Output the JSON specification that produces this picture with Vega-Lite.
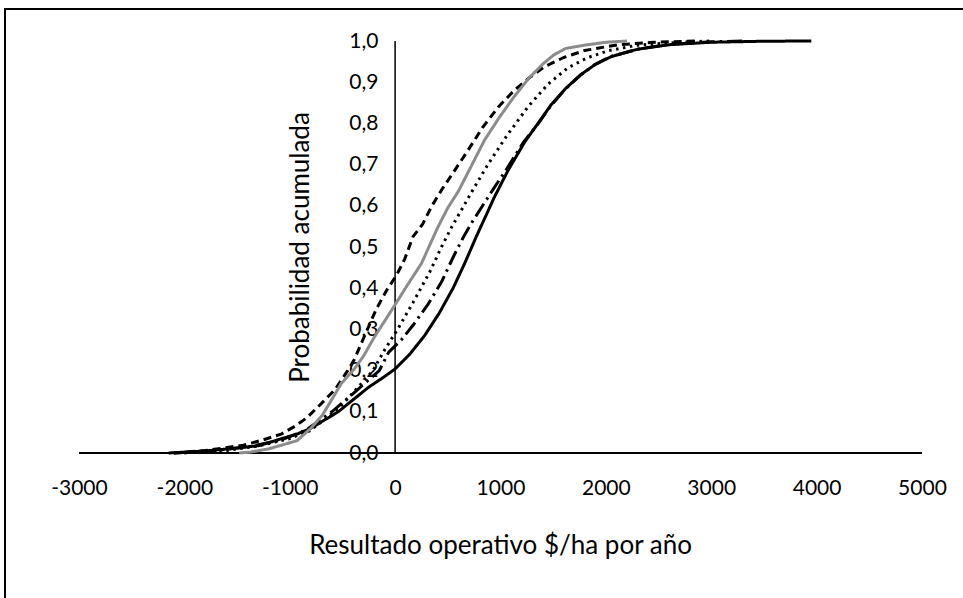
{
  "$schema": "https://vega.github.io/schema/vega-lite/v6.json",
  "width": 1000,
  "height": 621,
  "autosize": {"type": "none"},
  "padding": {"left": 5, "top": 9, "right": -42, "bottom": -32},
  "background": "#ffffff",
  "config": {
    "font": "Lato",
    "view": {"stroke": "#000000", "strokeWidth": 2},
    "axis": {"labelFont": "Lato", "titleFont": "Lato", "labelColor": "#000000", "titleColor": "#000000", "titleFontWeight": "normal"}
  },
  "datasets": {
    "curvas": [
      {"serie": "A", "x": -2150, "p": 0}, {"serie": "A", "x": -1800, "p": 0.005}, {"serie": "A", "x": -1500, "p": 0.012},
      {"serie": "A", "x": -1290, "p": 0.018}, {"serie": "A", "x": -1100, "p": 0.033}, {"serie": "A", "x": -930, "p": 0.046},
      {"serie": "A", "x": -800, "p": 0.06}, {"serie": "A", "x": -690, "p": 0.077}, {"serie": "A", "x": -540, "p": 0.1},
      {"serie": "A", "x": -390, "p": 0.131}, {"serie": "A", "x": -250, "p": 0.16}, {"serie": "A", "x": -120, "p": 0.182},
      {"serie": "A", "x": 0, "p": 0.204}, {"serie": "A", "x": 140, "p": 0.24}, {"serie": "A", "x": 280, "p": 0.285},
      {"serie": "A", "x": 420, "p": 0.34}, {"serie": "A", "x": 550, "p": 0.4}, {"serie": "A", "x": 660, "p": 0.46},
      {"serie": "A", "x": 770, "p": 0.525}, {"serie": "A", "x": 860, "p": 0.575}, {"serie": "A", "x": 940, "p": 0.62},
      {"serie": "A", "x": 1070, "p": 0.685}, {"serie": "A", "x": 1230, "p": 0.755}, {"serie": "A", "x": 1370, "p": 0.805},
      {"serie": "A", "x": 1480, "p": 0.845}, {"serie": "A", "x": 1620, "p": 0.885}, {"serie": "A", "x": 1760, "p": 0.918},
      {"serie": "A", "x": 1900, "p": 0.943}, {"serie": "A", "x": 2050, "p": 0.962}, {"serie": "A", "x": 2300, "p": 0.98},
      {"serie": "A", "x": 2600, "p": 0.991}, {"serie": "A", "x": 3000, "p": 0.997}, {"serie": "A", "x": 3500, "p": 0.9995},
      {"serie": "A", "x": 3950, "p": 1.0},

      {"serie": "B", "x": -2100, "p": 0}, {"serie": "B", "x": -1800, "p": 0.006}, {"serie": "B", "x": -1440, "p": 0.019},
      {"serie": "B", "x": -1250, "p": 0.032}, {"serie": "B", "x": -1080, "p": 0.046}, {"serie": "B", "x": -950, "p": 0.065},
      {"serie": "B", "x": -840, "p": 0.085}, {"serie": "B", "x": -700, "p": 0.12}, {"serie": "B", "x": -570, "p": 0.154},
      {"serie": "B", "x": -450, "p": 0.2}, {"serie": "B", "x": -387, "p": 0.227}, {"serie": "B", "x": -280, "p": 0.29},
      {"serie": "B", "x": -179, "p": 0.349}, {"serie": "B", "x": -80, "p": 0.395}, {"serie": "B", "x": 15, "p": 0.432},
      {"serie": "B", "x": 90, "p": 0.47}, {"serie": "B", "x": 170, "p": 0.525}, {"serie": "B", "x": 260, "p": 0.555},
      {"serie": "B", "x": 350, "p": 0.6}, {"serie": "B", "x": 440, "p": 0.638}, {"serie": "B", "x": 550, "p": 0.68},
      {"serie": "B", "x": 680, "p": 0.73}, {"serie": "B", "x": 830, "p": 0.79}, {"serie": "B", "x": 980, "p": 0.84},
      {"serie": "B", "x": 1130, "p": 0.88}, {"serie": "B", "x": 1280, "p": 0.912}, {"serie": "B", "x": 1420, "p": 0.938},
      {"serie": "B", "x": 1600, "p": 0.96}, {"serie": "B", "x": 1800, "p": 0.977}, {"serie": "B", "x": 2116, "p": 0.991},
      {"serie": "B", "x": 2450, "p": 0.997}, {"serie": "B", "x": 2850, "p": 1.0},

      {"serie": "C", "x": -2000, "p": 0}, {"serie": "C", "x": -1600, "p": 0.006}, {"serie": "C", "x": -1300, "p": 0.017},
      {"serie": "C", "x": -1000, "p": 0.035}, {"serie": "C", "x": -810, "p": 0.054}, {"serie": "C", "x": -650, "p": 0.085},
      {"serie": "C", "x": -510, "p": 0.115}, {"serie": "C", "x": -350, "p": 0.16}, {"serie": "C", "x": -210, "p": 0.2},
      {"serie": "C", "x": -100, "p": 0.25}, {"serie": "C", "x": 30, "p": 0.303}, {"serie": "C", "x": 170, "p": 0.365},
      {"serie": "C", "x": 330, "p": 0.44}, {"serie": "C", "x": 440, "p": 0.5}, {"serie": "C", "x": 540, "p": 0.55},
      {"serie": "C", "x": 630, "p": 0.59}, {"serie": "C", "x": 730, "p": 0.635}, {"serie": "C", "x": 880, "p": 0.7},
      {"serie": "C", "x": 1060, "p": 0.77}, {"serie": "C", "x": 1260, "p": 0.84}, {"serie": "C", "x": 1450, "p": 0.895},
      {"serie": "C", "x": 1640, "p": 0.935}, {"serie": "C", "x": 1830, "p": 0.96}, {"serie": "C", "x": 2030, "p": 0.977},
      {"serie": "C", "x": 2300, "p": 0.99}, {"serie": "C", "x": 2700, "p": 0.997}, {"serie": "C", "x": 3000, "p": 1.0},

      {"serie": "D", "x": -2100, "p": 0}, {"serie": "D", "x": -1700, "p": 0.006}, {"serie": "D", "x": -1400, "p": 0.015},
      {"serie": "D", "x": -1100, "p": 0.03}, {"serie": "D", "x": -850, "p": 0.055}, {"serie": "D", "x": -600, "p": 0.1},
      {"serie": "D", "x": -390, "p": 0.146}, {"serie": "D", "x": -150, "p": 0.2}, {"serie": "D", "x": -60, "p": 0.245},
      {"serie": "D", "x": 60, "p": 0.275}, {"serie": "D", "x": 170, "p": 0.31}, {"serie": "D", "x": 310, "p": 0.36},
      {"serie": "D", "x": 440, "p": 0.415}, {"serie": "D", "x": 560, "p": 0.48}, {"serie": "D", "x": 650, "p": 0.525},
      {"serie": "D", "x": 730, "p": 0.56}, {"serie": "D", "x": 830, "p": 0.6}, {"serie": "D", "x": 930, "p": 0.64},
      {"serie": "D", "x": 1060, "p": 0.69}, {"serie": "D", "x": 1220, "p": 0.755}, {"serie": "D", "x": 1360, "p": 0.8},
      {"serie": "D", "x": 1470, "p": 0.84}, {"serie": "D", "x": 1610, "p": 0.882}, {"serie": "D", "x": 1750, "p": 0.915},
      {"serie": "D", "x": 1890, "p": 0.942}, {"serie": "D", "x": 2040, "p": 0.962}, {"serie": "D", "x": 2300, "p": 0.98},
      {"serie": "D", "x": 2600, "p": 0.992}, {"serie": "D", "x": 3000, "p": 0.998}, {"serie": "D", "x": 3300, "p": 1.0},

      {"serie": "E", "x": -1480, "p": 0}, {"serie": "E", "x": -1380, "p": 0.002}, {"serie": "E", "x": -1200, "p": 0.01},
      {"serie": "E", "x": -930, "p": 0.03}, {"serie": "E", "x": -800, "p": 0.06}, {"serie": "E", "x": -690, "p": 0.092},
      {"serie": "E", "x": -600, "p": 0.13}, {"serie": "E", "x": -510, "p": 0.169}, {"serie": "E", "x": -387, "p": 0.204},
      {"serie": "E", "x": -300, "p": 0.235}, {"serie": "E", "x": -200, "p": 0.28}, {"serie": "E", "x": -100, "p": 0.32},
      {"serie": "E", "x": 0, "p": 0.36}, {"serie": "E", "x": 110, "p": 0.405}, {"serie": "E", "x": 250, "p": 0.46},
      {"serie": "E", "x": 400, "p": 0.545}, {"serie": "E", "x": 500, "p": 0.595}, {"serie": "E", "x": 600, "p": 0.635},
      {"serie": "E", "x": 720, "p": 0.695}, {"serie": "E", "x": 850, "p": 0.76}, {"serie": "E", "x": 990, "p": 0.815},
      {"serie": "E", "x": 1130, "p": 0.865}, {"serie": "E", "x": 1270, "p": 0.91}, {"serie": "E", "x": 1410, "p": 0.946},
      {"serie": "E", "x": 1510, "p": 0.967}, {"serie": "E", "x": 1620, "p": 0.982}, {"serie": "E", "x": 1800, "p": 0.99},
      {"serie": "E", "x": 2000, "p": 0.997}, {"serie": "E", "x": 2200, "p": 1.0}
    ]
  },
  "layer": [
    {
      "description": "Eje horizontal en y = 0",
      "data": {"values": [{}]},
      "mark": {"type": "rule", "color": "#000000", "strokeWidth": 2},
      "encoding": {
        "x": {"datum": -3000, "type": "quantitative"},
        "x2": {"datum": 5000},
        "y": {"datum": 0, "type": "quantitative"}
      }
    },
    {
      "description": "Eje vertical en x = 0",
      "data": {"values": [{}]},
      "mark": {"type": "rule", "color": "#000000", "strokeWidth": 1.5},
      "encoding": {
        "x": {"datum": 0, "type": "quantitative"},
        "y": {"datum": 0, "type": "quantitative"},
        "y2": {"datum": 1}
      }
    },
    {
      "data": {"name": "curvas"},
      "mark": {"type": "line", "strokeWidth": 3, "strokeCap": "butt", "strokeJoin": "round"},
      "encoding": {
        "x": {
          "field": "x", "type": "quantitative",
          "scale": {"domain": [-3702, 5788], "nice": false, "zero": false},
          "axis": {
            "orient": "bottom", "offset": -177, "domain": false, "ticks": false, "tickSize": 0, "grid": false,
            "values": [-3000, -2000, -1000, 0, 1000, 2000, 3000, 4000, 5000],
            "labelExpr": "'' + datum.value",
            "labelFontSize": 21, "labelPadding": 24, "labelOverlap": false, "labelFlush": false,
            "title": "Resultado operativo $/ha por año", "titleFontSize": 26,
            "titleX": 495, "titleY": 92, "titleBaseline": "middle", "titleAlign": "center"
          }
        },
        "y": {
          "field": "p", "type": "quantitative",
          "scale": {"domain": [-0.4296, 1.0777], "nice": false, "zero": false},
          "axis": {
            "orient": "left", "offset": -390, "domain": false, "ticks": false, "tickSize": 0, "grid": false,
            "values": [0, 0.1, 0.2, 0.3, 0.4, 0.5, 0.6, 0.7, 0.8, 0.9, 1],
            "labelExpr": "replace(format(datum.value, '.1f'), '.', ',')",
            "labelFontSize": 21, "labelPadding": 17, "labelOverlap": false, "labelFlush": false,
            "title": "Probabilidad acumulada", "titleFontSize": 26,
            "titleX": -95, "titleY": 238, "titleBaseline": "middle", "titleAngle": -90, "titleAlign": "center"
          }
        },
        "color": {
          "field": "serie", "type": "nominal", "legend": null,
          "scale": {"domain": ["A", "B", "C", "D", "E"], "range": ["#000000", "#000000", "#000000", "#000000", "#8c8c8c"]}
        },
        "strokeDash": {
          "field": "serie", "type": "nominal", "legend": null,
          "scale": {"domain": ["A", "B", "C", "D", "E"], "range": [[1, 0], [8, 5], [2.5, 4.5], [15, 5, 2.5, 5], [1, 0]]}
        },
        "order": {"field": "x", "type": "quantitative"}
      }
    }
  ]
}
